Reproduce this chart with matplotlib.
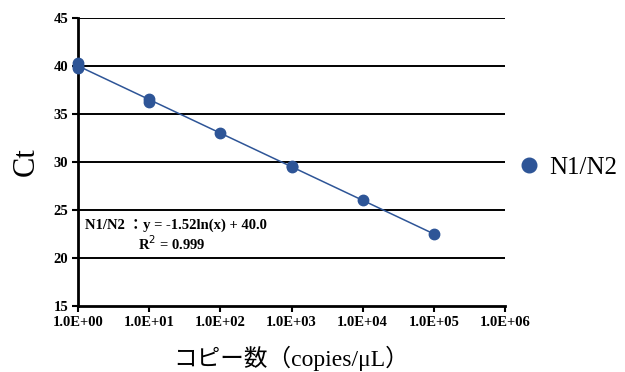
import numpy as np
import matplotlib
matplotlib.use("Agg")
import matplotlib.pyplot as plt
from matplotlib.ticker import FuncFormatter, FixedLocator, NullLocator

# data
copies = [1, 1, 1, 10, 10, 100, 1000, 1000, 1e4, 1e5]
ct = [40.3, 40.0, 39.8, 36.6, 36.3, 33.0, 29.6, 29.5, 26.0, 22.5]
series_name = "N1/N2"
x_ticks = [1, 10, 100, 1e3, 1e4, 1e5, 1e6]
y_ticks = [15, 20, 25, 30, 35, 40, 45]

plt.rcParams['font.family'] = ['Liberation Serif', 'Noto Sans CJK JP']
color = '#2E5597'

fig = plt.figure(figsize=(6.25, 3.72), dpi=100)
ax = fig.add_axes([0.1248, 0.1774, 0.6832, 0.7742])

ax.set_xscale('log')
ax.set_xlim(1, 1e6)
ax.set_ylim(15, 45)

for y in y_ticks[1:]:
    ax.axhline(y, color='black', lw=1.4, zorder=1)

ax.plot(copies, ct, 'o', color=color, markersize=7.5, zorder=3, label=series_name, clip_on=False)

# fit trendline (log)
lx = np.log(np.array(copies, dtype=float))
slope, intercept = np.polyfit(lx, ct, 1)
xs = np.logspace(0, 5, 50)
ax.plot(xs, slope * np.log(xs) + intercept, color=color, lw=1.1, zorder=2)

ss_res = np.sum((np.array(ct) - (slope * lx + intercept)) ** 2)
ss_tot = np.sum((np.array(ct) - np.mean(ct)) ** 2)
r2 = 1 - ss_res / ss_tot

ax.text(0.016, 0.28, f"N1/N2 ：y = {slope:.2f}ln(x) + {intercept:.1f}", transform=ax.transAxes,
        fontsize=10.5, fontweight='bold', ha='left', va='center')
ax.text(0.14, 0.215, f"R$^2$ = {r2:.3f}", transform=ax.transAxes,
        fontsize=10.5, fontweight='bold', ha='left', va='center')

ax.xaxis.set_major_locator(FixedLocator(x_ticks))
ax.xaxis.set_minor_locator(NullLocator())
ax.xaxis.set_major_formatter(FuncFormatter(lambda v, p: f"{v:.1E}"))
ax.set_yticks(y_ticks)

for lab in ax.get_xticklabels() + ax.get_yticklabels():
    lab.set_fontweight('bold')
    lab.set_fontsize(10.5)

ax.tick_params(axis='both', direction='out', length=4, width=1.5, color='black', pad=3)

for s in ['top', 'right']:
    ax.spines[s].set_visible(False)
for s in ['left', 'bottom']:
    ax.spines[s].set_linewidth(2)
    ax.spines[s].set_color('black')

ax.set_ylabel("Ct", fontsize=22, labelpad=9)
ax.set_xlabel("コピー数（copies/μL）", fontsize=17, labelpad=12)

leg = ax.legend(loc='center left', bbox_to_anchor=(1.028, 0.48), frameon=False,
                fontsize=18, handlelength=1.0, handletextpad=0.3, markerscale=1.4,
                borderpad=0, borderaxespad=0)

fig.savefig("out.png", dpi=100)
